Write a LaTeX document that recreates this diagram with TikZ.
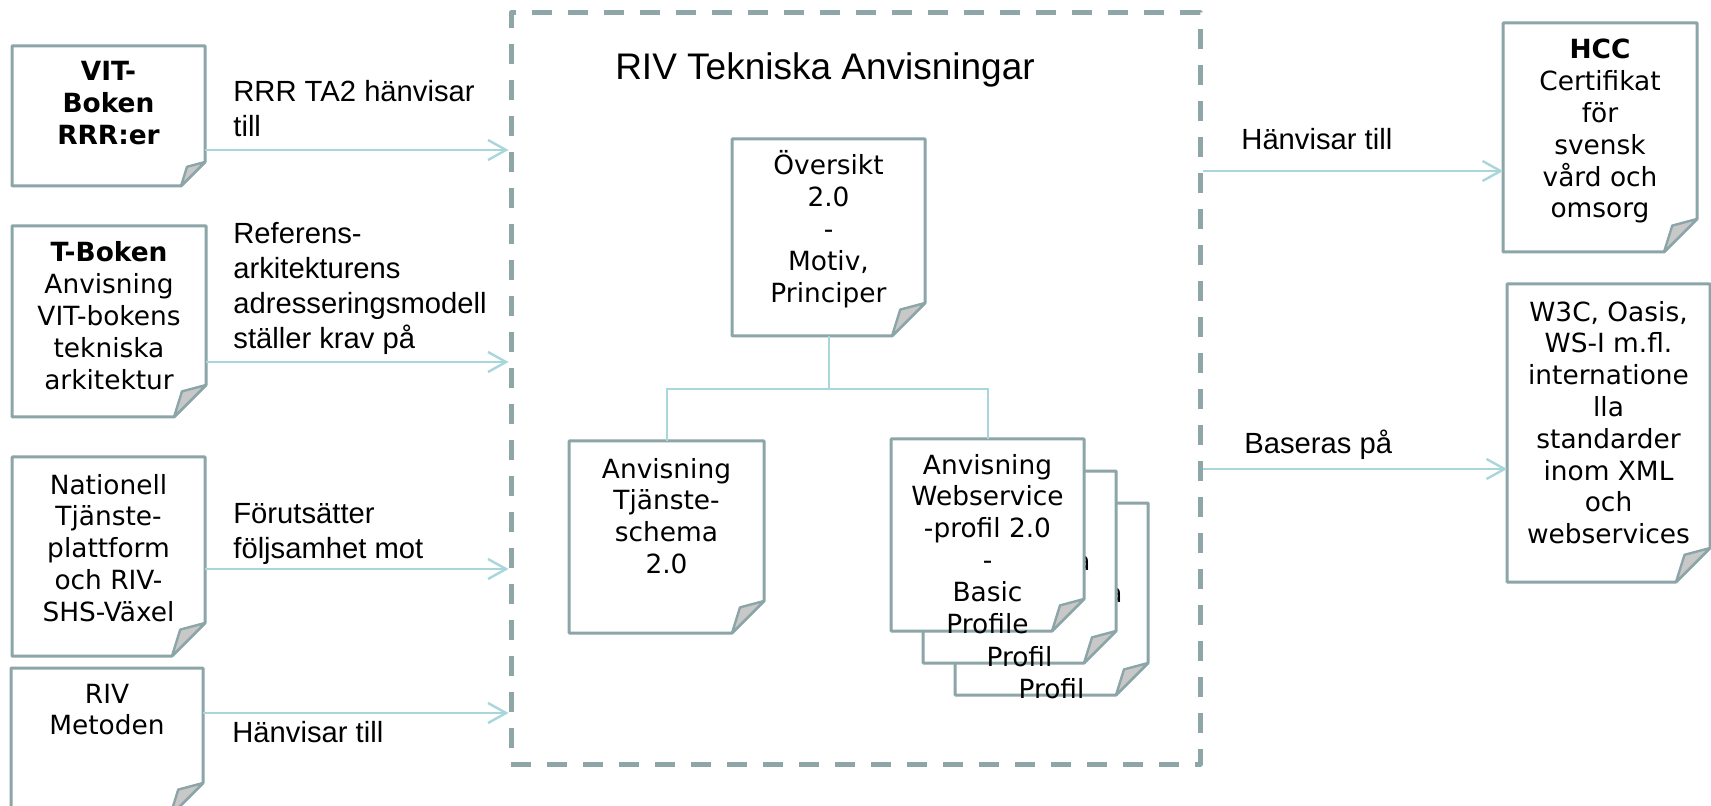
\documentclass[tikz,border=0pt]{standalone}
\usepackage{fontspec}
\usetikzlibrary{fit,arrows.meta}

\newfontfamily\boxfont{DejaVu Sans}
\newfontfamily\labelfont{Liberation Sans}

\definecolor{docgray}{HTML}{8CA5A8}
\definecolor{framegray}{HTML}{8FA6A8}
\definecolor{foldgray}{HTML}{C8C8C8}
\definecolor{flowcyan}{HTML}{A8D6DB}

\tikzset{
	docarea/.style={inner sep=0pt, outer sep=0pt},
	docline/.style={draw=docgray, line width=1.5pt, fill=white, line join=round},
	foldfill/.style={draw=docgray, line width=1.2pt, fill=foldgray, line join=round},
	doctext/.style={font=\boxfont\fontsize{13.2}{15.9}\selectfont, align=center, inner sep=0pt, anchor=base},
	arrowtext/.style={font=\labelfont\fontsize{14.6}{17.5}\selectfont, align=left, inner sep=0pt, anchor=base west},
	titletext/.style={font=\labelfont\fontsize{18.5}{22}\selectfont, inner sep=0pt, anchor=base},
	flow/.style={draw=flowcyan, line width=1.2pt, -{Straight Barb[length=9pt,width=10pt]}},
	tree/.style={draw=flowcyan, line width=1pt},
	rivframe/.style={draw=framegray, line width=2.5pt, dash pattern=on 10pt off 8pt, line join=round, inner sep=0pt}
}

% document outline with folded corner
\newcommand{\docbox}[2]{%
	\filldraw[docline] (#1.north west) -- (#1.north east) -- ([shift={(0,-#2)}]#1.south east) -- ([shift={(-#2,0)}]#1.south east) -- (#1.south west) -- cycle;
	\filldraw[foldfill] ([shift={(0,-#2)}]#1.south east) -- ([shift={(-0.75*#2,-0.8*#2)}]#1.south east) -- ([shift={(-#2,0)}]#1.south east) -- cycle;
}

\begin{document}
\begin{tikzpicture}[x=0.5pt,y=-0.5pt]
	
	\useasboundingbox (0,0) rectangle (1711,806);
	
	% The dashed frame and its title
	\node[rivframe, fit={(511,13) (1200,764)}] (riv) {};
	\node[titletext] (rivtitle) at (825,80) {RIV Tekniska Anvisningar};
	
	% Documents on the left (text placed at the baseline of its last line)
	\node[docarea, fit={(12,46) (205,186)}] (vit) {};
	\docbox{vit}{24}
	\node[doctext] (vittext) at (108.5,144.6) {\textbf{VIT-}\\\textbf{Boken}\\\textbf{RRR:er}};
	
	\node[docarea, fit={(12,226) (206,417)}] (tbok) {};
	\docbox{tbok}{32}
	\node[doctext] (tboktext) at (109,389.2) {\textbf{T-Boken}\\Anvisning\\VIT-bokens\\tekniska\\arkitektur};
	
	\node[docarea, fit={(12,457) (205,656)}] (ntjp) {};
	\docbox{ntjp}{33}
	\node[doctext] (ntjptext) at (108.5,621.2) {Nationell\\Tjänste-\\plattform\\och RIV-\\SHS-Växel};
	
	\node[docarea, fit={(11,668) (203,816)}] (rivm) {};
	\docbox{rivm}{33}
	\node[doctext] (rivmtext) at (107,734.8) {RIV\\Metoden};
	
	% Documents inside the frame
	\node[docarea, fit={(732,139) (925,336)}] (overs) {};
	\docbox{overs}{33}
	\node[doctext] (overstext) at (828.5,302.2) {Översikt\\2.0\\-\\Motiv,\\Principer};
	
	\node[docarea, fit={(569,441) (764,633)}] (schema) {};
	\docbox{schema}{32}
	\node[doctext] (schematext) at (666.5,573.4) {Anvisning\\Tjänste-\\schema\\2.0};
	
	% Stack of profile documents, back to front
	\node[docarea, fit={(955,503) (1148,695)}] (ws3) {};
	\docbox{ws3}{32}
	\node[doctext, anchor=base east] (ws3tail) at (1123,602) {a};
	\node[doctext] (ws3foot) at (1051.5,698) {Profil};
	
	\node[docarea, fit={(923,471) (1116,663)}] (ws2) {};
	\docbox{ws2}{32}
	\node[doctext, anchor=base east] (ws2tail) at (1091,570) {a};
	\node[doctext] (ws2foot) at (1019.5,666) {Profil};
	
	\node[docarea, fit={(891,439) (1084,631)}] (ws1) {};
	\docbox{ws1}{32}
	\node[doctext] (ws1text) at (987.5,633) {Anvisning\\Webservice\\-profil 2.0\\-\\Basic\\Profile};
	
	% Documents on the right
	\node[docarea, fit={(1503,23) (1697,252)}] (hcc) {};
	\docbox{hcc}{33}
	\node[doctext] (hcctext) at (1600,218) {\textbf{HCC}\\Certifikat\\för\\svensk\\vård och\\omsorg};
	
	\node[docarea, fit={(1507,284) (1710,582)}] (w3c) {};
	\docbox{w3c}{34}
	\node[doctext] (w3ctext) at (1608.5,543.6) {W3C, Oasis,\\WS-I m.fl.\\internatione\\lla\\standarder\\inom XML\\och\\webservices};
	
	% Tree below the overview
	\coordinate (branch) at (828.5,389);
	\draw[tree] (overs.south) -- (branch);
	\draw[tree] (branch) -| (schema.north);
	\draw[tree] (branch) -| (ws1.north);
	
	% Arrows into the frame
	\draw[flow] ([shift={(0,34)}]vit.east) coordinate (vitout) -- (vitout -| riv.west);
	\draw[flow] ([shift={(0,40.5)}]tbok.east) coordinate (tbokout) -- (tbokout -| riv.west);
	\draw[flow] ([shift={(0,12.5)}]ntjp.east) coordinate (ntjpout) -- (ntjpout -| riv.west);
	\draw[flow] ([shift={(0,-29)}]rivm.east) coordinate (rivmout) -- (rivmout -| riv.west);
	
	% Arrows out of the frame
	\draw[flow] ([shift={(0,33.5)}]hcc.west) coordinate (hccin) (riv.east |- hccin) -- (hccin);
	\draw[flow] ([shift={(0,36)}]w3c.west) coordinate (w3cin) (riv.east |- w3cin) -- (w3cin);
	
	% Arrow labels
	\node[arrowtext] (vitlabel) at (233,137) {RRR TA2 hänvisar\\till};
	\node[arrowtext] (tboklabel) at (233,349) {Referens-\\arkitekturens\\adresseringsmodell\\ställer krav på};
	\node[arrowtext] (ntjplabel) at (233,558) {Förutsätter\\följsamhet mot};
	\node[arrowtext] (rivmlabel) at (232,742) {Hänvisar till};
	\node[arrowtext] (hcclabel) at (1241,150) {Hänvisar till};
	\node[arrowtext] (w3clabel) at (1244,453) {Baseras på};
	
\end{tikzpicture}
\end{document}
